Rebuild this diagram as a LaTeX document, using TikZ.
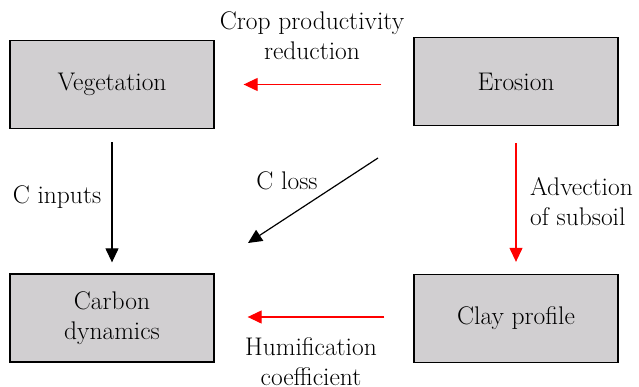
\documentclass[tikz,border=0pt]{standalone}
\usepackage{fontspec}
\usetikzlibrary{arrows.meta}
\definecolor{boxgray}{RGB}{209,207,209}
\definecolor{arrred}{RGB}{255,0,0}
\tikzset{
  stepbox/.style={draw=black, line width=1.3pt, fill=boxgray, minimum width=204pt, minimum height=88pt, inner sep=0pt, align=center},
  lab/.style={inner sep=0pt, align=center},
  blackarrow/.style={draw=black, line width=1.2pt, -{Triangle[length=14pt,width=13pt]}},
  redarrow/.style={draw=arrred, line width=1.2pt, -{Triangle[length=14pt,width=13pt]}}
}
\begin{document}
\begin{tikzpicture}[x=1pt,y=-1pt,font=\rmfamily\fontsize{25.5}{30}\selectfont]
\useasboundingbox (0,0) rectangle (639,387);
\node[stepbox] (veg) at (112,84.5) {Vegetation};
\node[stepbox] (ero) at (516,81.5) {Erosion};
\node[stepbox] (carb) at (112,318) {Carbon\\dynamics};
\node[stepbox] (clay) at (516,318.5) {Clay profile};

\node[lab] (l1) at (312,36) {Crop productivity\\reduction};
\node[lab] (l2) at (57,197) {C inputs};
\node[lab] (l3) at (287,181) {C loss};
\node[lab, align=left, anchor=west] (l4) at (530,202) {Advection\\of subsoil};
\node[lab] (l5) at (311,362) {Humification\\coefficient};

\coordinate (c1) at (378,158);
\coordinate (c2) at (248,243);

\draw[redarrow, shorten <=32pt, shorten >=29pt] (veg.east -| ero.west) -- (veg.east);
\draw[blackarrow, shorten <=13pt, shorten >=11pt] (veg.south) -- (carb.north);
\draw[redarrow, shorten <=17pt, shorten >=12pt] (ero.south) -- (clay.north);
\draw[redarrow, shorten <=29pt, shorten >=33pt] (clay.west |- 0,317) -- (carb.east |- 0,317);
\draw[blackarrow] (c1) -- (c2);
\end{tikzpicture}
\end{document}
